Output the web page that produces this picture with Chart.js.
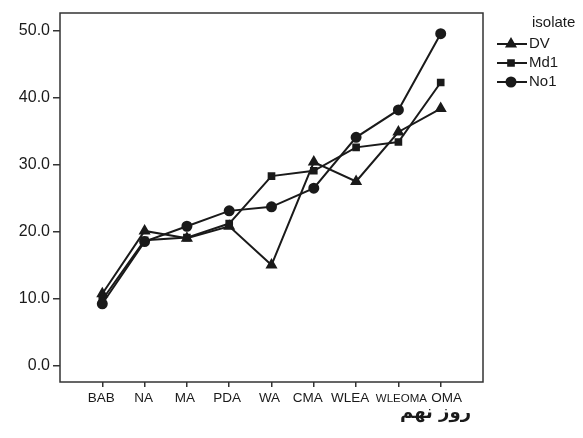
<!DOCTYPE html>
<html>
<head>
<meta charset="utf-8">
<script src="https://cdn.jsdelivr.net/npm/chart.js@4.4.0/dist/chart.umd.min.js"></script>
<style>
  html, body { margin: 0; padding: 0; background: #fff; }
  #wrap { width: 583px; height: 438px; }
</style>
</head>
<body>
<div id="wrap"><canvas id="myChart" width="583" height="438"></canvas></div>
<script>
// data
const categories = ['BAB', 'NA', 'MA', 'PDA', 'WA', 'CMA', 'WLEA', 'WLEOMA', 'OMA'];
const dv  = [10.7, 20.1, 19.0, 20.8, 15.0, 30.4, 27.5, 34.9, 38.4];
const md1 = [9.8, 18.7, 19.1, 21.2, 28.3, 29.1, 32.6, 33.4, 42.3];
const no1 = [9.2, 18.5, 20.8, 23.1, 23.7, 26.5, 34.1, 38.2, 49.6];
const yTicks = [0, 10, 20, 30, 40, 50];
const seriesNames = ['DV', 'Md1', 'No1'];
const legendTitle = 'isolate';
const axisTitle = 'روز نهم';

const ink = '#1a1a1a';
// the source nudges crowded x labels sideways
const labelNudge = [-1, -1, -2, -2, -2, -6, -6, 3, 6];

function pts(arr) {
    return arr.map((v, i) => ({ x: i, y: v }));
}

//frame round the plot + x title + legend
const extras = {
    id: 'extras',
    beforeDraw(chart) {
        const items = chart.scales.x.getLabelItems();
        items.forEach((it, i) => {
            it.options.translation[0] += labelNudge[i] || 0;
            if (i === 7) it.options.translation[1] += 1.5;
        });
    },
    afterDraw(chart) {
        const c = chart.ctx;
        const a = chart.chartArea;
        c.save();
        c.strokeStyle = '#333';
        c.lineWidth = 1.5;
        c.strokeRect(a.left, a.top, a.right - a.left, a.bottom - a.top);

        c.fillStyle = ink;
        c.font = 'bold 18px "DejaVu Sans"';
        c.textAlign = 'right';
        c.textBaseline = 'middle';
        c.fillText(axisTitle, a.right - 12, 413);

        // legend
        c.font = '15px "Liberation Sans", Arial';
        c.textAlign = 'left';
        c.fillText(legendTitle, 532, 23);
        chart.data.datasets.forEach((ds, i) => {
            const y = 44 + i * 19;
            c.strokeStyle = ink;
            c.lineWidth = 2;
            c.beginPath();
            c.moveTo(497, y);
            c.lineTo(527, y);
            c.stroke();
            Chart.helpers.drawPoint(c, {
                pointStyle: ds.pointStyle,
                radius: ds.pointRadius,
                borderWidth: 1
            }, 511, y);
            c.fillStyle = ink;
            c.fill();
            c.fillText(ds.label, 529, y);
        });
        c.restore();
    }
};

const ctx = document.getElementById('myChart');

new Chart(ctx, {
    type: 'line',
    data: {
        datasets: [
            { label: seriesNames[0], data: pts(dv), pointStyle: 'triangle', pointRadius: 5 },
            { label: seriesNames[1], data: pts(md1), pointStyle: 'rect', pointRadius: 4 },
            { label: seriesNames[2], data: pts(no1), pointStyle: 'circle', pointRadius: 4.5 }
        ].map(d => Object.assign(d, {
            borderColor: ink,
            backgroundColor: ink,
            pointBackgroundColor: ink,
            pointBorderColor: ink,
            borderWidth: 2,
            tension: 0
        }))
    },
    options: {
        responsive: false,
        animation: false,
        layout: { padding: { top: 13, right: 100, left: 0, bottom: 0 } },
        plugins: { legend: { display: false }, tooltip: { enabled: false } },
        scales: {
            x: {
                type: 'linear',
                min: -1,
                max: 9,
                afterBuildTicks: s => { s.ticks = categories.map((c, i) => ({ value: i })); },
                afterFit: s => { s.height = 56; },
                grid: { drawOnChartArea: false, tickLength: 5, color: '#333', lineWidth: 1.5 },
                border: { display: false },
                ticks: {
                    color: ink,
                    padding: 3,
                    maxRotation: 0,
                    autoSkip: false,
                    font: c => ({ family: '"Liberation Sans", Arial', size: c.index === 7 ? 11.5 : 13.5 }),
                    callback: v => categories[v]
                }
            },
            y: {
                min: -2.5,
                max: 52.7,
                afterBuildTicks: s => { s.ticks = yTicks.map(v => ({ value: v })); },
                afterFit: s => { s.width = 60; },
                grid: { drawOnChartArea: false, tickLength: 7, color: '#333', lineWidth: 1.5 },
                border: { display: false },
                ticks: {
                    color: ink,
                    padding: 3,
                    font: { family: '"Liberation Sans", Arial', size: 16 },
                    callback: v => v.toFixed(1)
                }
            }
        }
    },
    plugins: [extras]
});
</script>
</body>
</html>
